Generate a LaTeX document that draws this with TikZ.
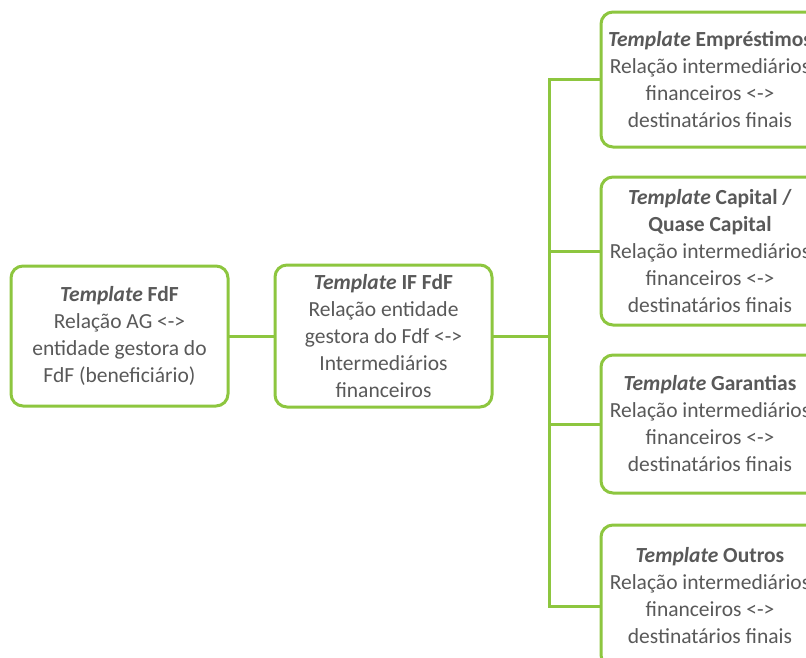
\documentclass[tikz,border=0pt]{standalone}
\usepackage{fontspec}
\setmainfont{Carlito}
\definecolor{tgreen}{RGB}{141,198,63}
\definecolor{tgray}{RGB}{89,89,89}

\begin{document}
\begin{tikzpicture}[x=1pt,y=-1pt,
	tbox/.style={draw=tgreen,line width=3pt,rounded corners=12pt,fill=white,text=tgray,
		align=center,minimum width=217pt,inner sep=0pt,font=\fontsize{21.5}{27}\selectfont},
	link/.style={draw=tgreen,line width=3pt,line cap=rect}]
	\useasboundingbox (0,0) rectangle (806,657);
	\clip (0,0) rectangle (806,657);
	\node[tbox,minimum height=140pt] (fdf) at (119.5,336)
		{\textbf{\textit{Template} FdF}\\Relação AG <->\\entidade gestora do\\FdF (beneficiário)};
	\node[tbox,minimum height=142pt] (iffdf) at (383.5,336)
		{\textbf{\textit{Template} IF FdF}\\Relação entidade\\gestora do Fdf <->\\Intermediários\\financeiros};
	\node[tbox,minimum width=218pt,minimum height=135pt] (emp) at (710,79.5)
		{\textbf{\textit{Template} Empréstimos}\\Relação intermediários\\financeiros <->\\destinatários finais};
	\node[tbox,minimum width=218pt,minimum height=148pt] (cap) at (710,251)
		{\textbf{\textit{Template} Capital /}\\\textbf{Quase Capital}\\Relação intermediários\\financeiros <->\\destinatários finais};
	\node[tbox,minimum width=218pt,minimum height=138pt] (gar) at (710,424)
		{\textbf{\textit{Template} Garantias}\\Relação intermediários\\financeiros <->\\destinatários finais};
	\node[tbox,minimum width=218pt,minimum height=142pt] (out) at (710,596)
		{\textbf{\textit{Template} Outros}\\Relação intermediários\\financeiros <->\\destinatários finais};
	% barramento
	\coordinate (bus) at (549,336);
	\coordinate (bustop) at (549,79.5);
	\coordinate (busbot) at (549,606);
	\draw[link] (fdf) -- (iffdf);
	\draw[link] (iffdf.east) -- (bus);
	\draw[link] (bustop) -- (busbot);
	\draw[link] (bustop) -- (emp.west);
	\draw[link] (bus |- cap.west) -- (cap.west);
	\draw[link] (bus |- gar.west) -- (gar.west);
	\draw[link] (busbot) -- (busbot -| out.west);
\end{tikzpicture}
\end{document}
